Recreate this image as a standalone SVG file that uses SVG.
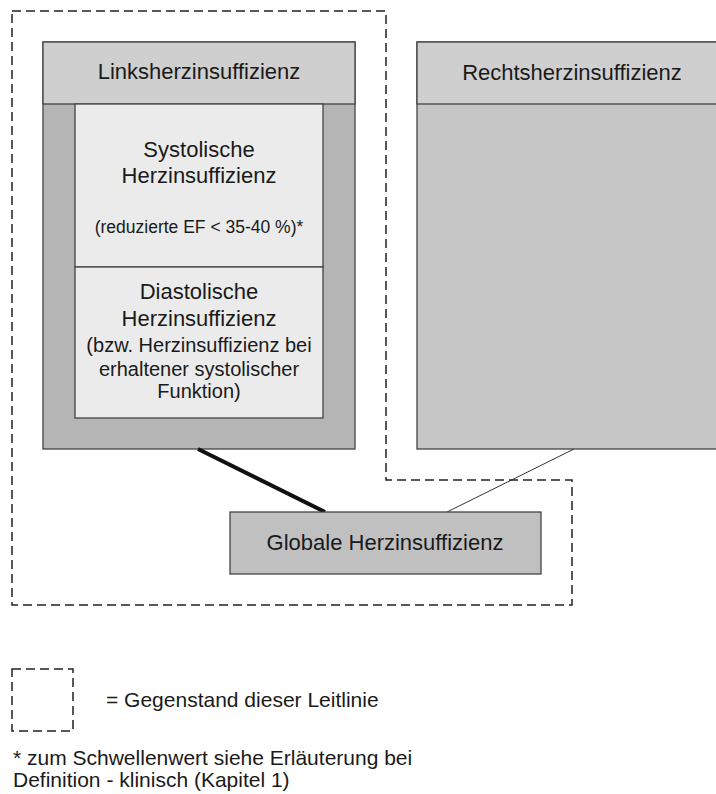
<svg xmlns="http://www.w3.org/2000/svg" width="716" height="794" viewBox="0 0 716 794">
<style>
text{font-family:"Liberation Sans",Arial,sans-serif;fill:#1a1a1a}
.box{stroke:#444;stroke-width:1.3}
.dash{fill:none;stroke:#222;stroke-width:1.5;stroke-dasharray:9 5}
.t22{font-size:22px;text-anchor:middle}
.t20{font-size:20px;text-anchor:middle}
.t18{font-size:17.5px;text-anchor:middle}
</style>
<rect width="716" height="794" fill="#fff"/>
<g id="scope">
<path class="dash" d="M12 11 H386 V480 H572 V605 H12 Z"/>
</g>
<g id="links">
<rect class="box" x="43" y="42" width="312" height="407" fill="#b5b5b5"/>
<rect class="box" x="43" y="42" width="312" height="62" fill="#cfcfcf"/>
<text class="t22" x="199" y="79">Linksherzinsuffizienz</text>
</g>
<g id="systolisch">
<rect class="box" x="75" y="104" width="248" height="163" fill="#ebebeb"/>
<text class="t22" x="199" y="157">Systolische</text>
<text class="t22" x="199" y="183">Herzinsuffizienz</text>
<text class="t18" x="199" y="233">(reduzierte EF &lt; 35-40 %)*</text>
</g>
<g id="diastolisch">
<rect class="box" x="75" y="267" width="248" height="151" fill="#ebebeb"/>
<text class="t22" x="199" y="299">Diastolische</text>
<text class="t22" x="199" y="326">Herzinsuffizienz</text>
<text class="t20" x="199" y="352">(bzw. Herzinsuffizienz bei</text>
<text class="t20" x="199" y="376">erhaltener systolischer</text>
<text class="t20" x="199" y="398">Funktion)</text>
</g>
<g id="rechts">
<rect class="box" x="417" y="42" width="310" height="407" fill="#c6c6c6"/>
<rect class="box" x="417" y="42" width="310" height="62" fill="#cfcfcf"/>
<text class="t22" x="572" y="80">Rechtsherzinsuffizienz</text>
</g>
<g id="connectors">
<line x1="198" y1="449" x2="325" y2="512" stroke="#111" stroke-width="4"/>
<line x1="574" y1="449" x2="447" y2="512" stroke="#333" stroke-width="1"/>
</g>
<g id="global">
<rect class="box" x="230" y="512" width="311" height="62" fill="#c0c0c0"/>
<text class="t22" x="385" y="550">Globale Herzinsuffizienz</text>
</g>
<g id="legend">
<rect class="dash" x="12" y="669" width="61" height="62"/>
<text x="106" y="707" style="font-size:21px">= Gegenstand dieser Leitlinie</text>
<text x="13" y="765" style="font-size:21px">* zum Schwellenwert siehe Erläuterung bei</text>
<text x="13" y="787" style="font-size:21px">Definition - klinisch (Kapitel 1)</text>
</g>
</svg>
